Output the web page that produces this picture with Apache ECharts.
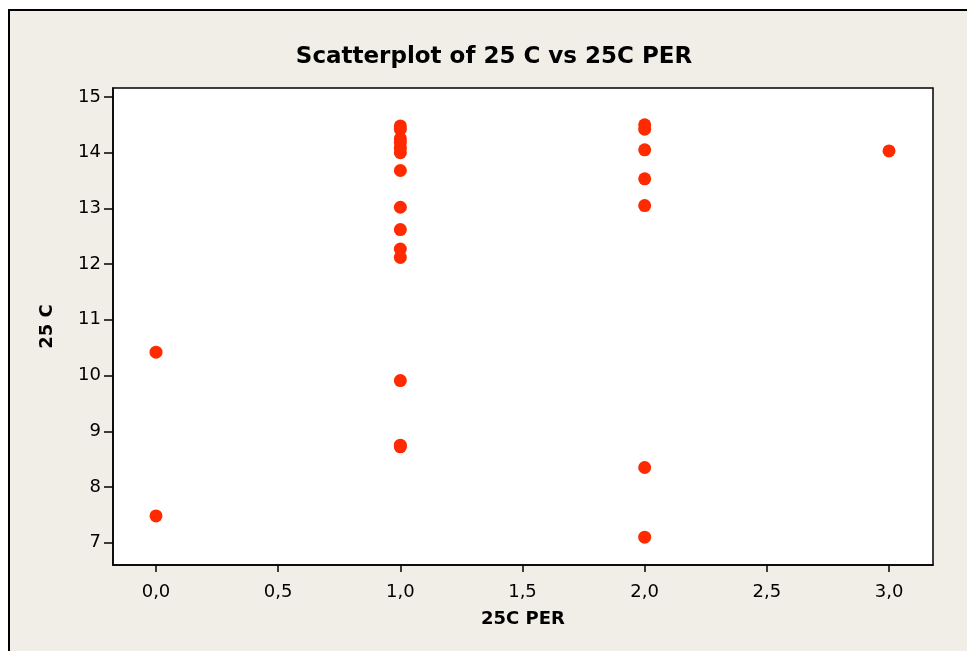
<!DOCTYPE html>
<html>
<head>
<meta charset="utf-8">
<script src="https://cdn.jsdelivr.net/npm/echarts@6/dist/echarts.min.js"></script>
<style>html,body{margin:0;padding:0;background:#fff;}#c{width:967px;height:651px;}</style>
</head>
<body>
<div id="c"></div>
<script>
// Data
const perValues = [0, 0, 1, 1, 1, 1, 1, 1, 1, 1, 1, 1, 1, 1, 1, 1, 2, 2, 2, 2, 2, 2, 2, 3];
const c25Values = [10.42, 7.48, 14.48, 14.42, 14.25, 14.18, 14.08, 14.0, 13.68, 13.02, 12.62, 12.27, 12.12, 9.91, 8.75, 8.72, 14.50, 14.42, 14.05, 13.53, 13.05, 8.35, 7.10, 14.03];
const xTicks = [0, 0.5, 1, 1.5, 2, 2.5, 3];
const xTickLabels = ['0,0', '0,5', '1,0', '1,5', '2,0', '2,5', '3,0'];
const yTicks = [7, 8, 9, 10, 11, 12, 13, 14, 15];
const yTickLabels = ['7', '8', '9', '10', '11', '12', '13', '14', '15'];
const titleText = 'Scatterplot of 25 C vs 25C PER';
const xName = '25C PER';
const yName = '25 C';

const points = perValues.map((x, i) => [x, c25Values[i]]);
const font = 'DejaVu Sans, Verdana, sans-serif';

const chart = echarts.init(document.getElementById('c'), null, {renderer: 'canvas'});
chart.setOption({
  animation: false,
  backgroundColor: '#F1EEE7',
  graphic: [
    {type: 'rect', shape: {x: 0, y: 0, width: 967, height: 9}, style: {fill: '#fff'}, silent: true},
    {type: 'rect', shape: {x: 0, y: 0, width: 8, height: 651}, style: {fill: '#fff'}, silent: true},
    {type: 'line', shape: {x1: 8, y1: 10, x2: 967, y2: 10}, style: {stroke: '#000', lineWidth: 2}, silent: true},
    {type: 'line', shape: {x1: 9, y1: 9, x2: 9, y2: 651}, style: {stroke: '#000', lineWidth: 2}, silent: true},
    {type: 'text', x: 494, y: 57, style: {text: titleText, font: 'bold 23px ' + font, fill: '#000', align: 'center', verticalAlign: 'middle'}}
  ],
  grid: {
    left: 113, top: 88, width: 820, height: 477,
    show: true, backgroundColor: '#fff', borderColor: '#000', borderWidth: 1.5
  },
  xAxis: {
    type: 'value', min: -0.176, max: 3.18,
    name: xName, nameLocation: 'middle', nameGap: 45,
    nameTextStyle: {fontFamily: font, fontWeight: 'bold', fontSize: 18, color: '#000'},
    axisLine: {show: true, onZero: false, lineStyle: {color: '#000', width: 1.5}},
    axisTick: {show: true, inside: false, length: 7, customValues: xTicks, lineStyle: {color: '#000', width: 1.5}},
    axisLabel: {show: true, margin: 18, customValues: xTicks, fontFamily: font, fontSize: 18, color: '#000',
      formatter: v => { const i = xTicks.findIndex(t => Math.abs(t - v) < 1e-6); return i >= 0 ? xTickLabels[i] : ''; }},
    splitLine: {show: false}
  },
  yAxis: {
    type: 'value', min: 6.6, max: 15.16,
    name: yName, nameLocation: 'middle', nameGap: 57, nameRotate: 90,
    nameTextStyle: {fontFamily: font, fontWeight: 'bold', fontSize: 18, color: '#000'},
    axisLine: {show: true, onZero: false, lineStyle: {color: '#000', width: 1.5}},
    axisTick: {show: true, inside: false, length: 9, customValues: yTicks, lineStyle: {color: '#000', width: 1.5}},
    axisLabel: {show: true, margin: 12, customValues: yTicks, fontFamily: font, fontSize: 18, color: '#000',
      formatter: v => { const i = yTicks.findIndex(t => Math.abs(t - v) < 1e-6); return i >= 0 ? yTickLabels[i] : ''; }},
    splitLine: {show: false}
  },
  series: [{
    type: 'scatter',
    data: points,
    symbol: 'circle',
    symbolSize: 13,
    itemStyle: {color: '#FF2A00', opacity: 1}
  }]
});
</script>
</body>
</html>
